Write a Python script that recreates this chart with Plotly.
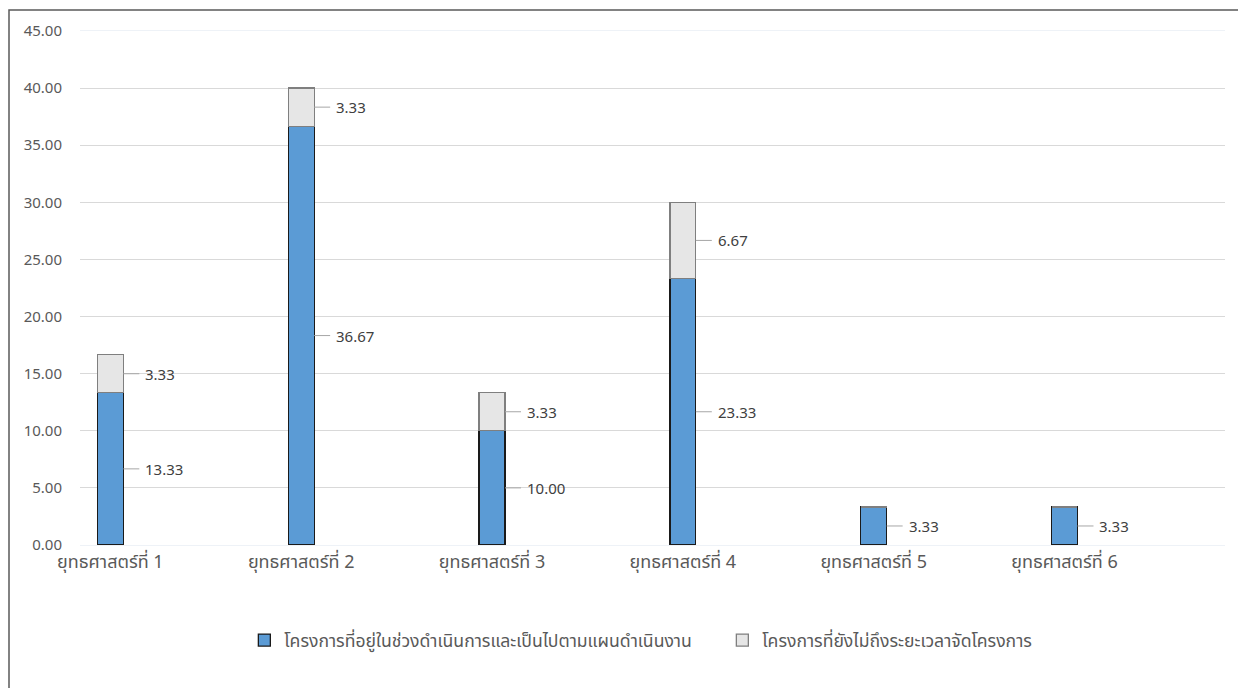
import plotly.graph_objects as go

categories = ["ยุทธศาสตร์ที่ 1", "ยุทธศาสตร์ที่ 2", "ยุทธศาสตร์ที่ 3",
              "ยุทธศาสตร์ที่ 4", "ยุทธศาสตร์ที่ 5", "ยุทธศาสตร์ที่ 6"]
in_progress = [13.33, 36.67, 10.00, 23.33, 3.33, 3.33]
not_yet = [3.33, 3.33, 3.33, 6.67, 0, 0]
series_names = ["โครงการที่อยู่ในช่วงดำเนินการและเป็นไปตามแผนดำเนินงาน",
                "โครงการที่ยังไม่ถึงระยะเวลาจัดโครงการ"]
y_ticks = [0, 5, 10, 15, 20, 25, 30, 35, 40, 45]

# page has an 8px body margin, so the figure is drawn from (8, 8)
W, H = 1238, 680
ML, MT = 72, 23
PW, PH = 1145, 514
MR = W - ML - PW
MB = H - MT - PH

x = list(range(len(categories)))
bw = 0.136
FONT = "Noto Sans, Noto Sans Thai, Leelawadee UI, Tahoma, sans-serif"

fig = go.Figure()
fig.add_trace(go.Bar(x=x, y=in_progress, width=bw, name=series_names[0],
                     marker=dict(color="#5B9BD5", line=dict(color="#1A1A1A", width=1.3)),
                     hoverinfo="skip"))
fig.add_trace(go.Bar(x=x, y=not_yet, width=bw, name=series_names[1],
                     marker=dict(color="#E6E6E6", line=dict(color="#7F7F7F", width=1.3)),
                     hoverinfo="skip"))

# leader lines and data labels
unit_px = PW / 6.0
lead = 16 / unit_px
lx, ly = [], []
for i in x:
    segs = [(in_progress[i] / 2, in_progress[i])]
    if not_yet[i] > 0:
        segs.append((in_progress[i] + not_yet[i] / 2, not_yet[i]))
    for ymid, val in segs:
        x0 = i + bw / 2
        lx += [x0, x0 + lead, None]
        ly += [ymid, ymid, None]
        fig.add_annotation(x=x0 + lead, y=ymid, xref="x", yref="y", text=f"{val:.2f}",
                           showarrow=False, xanchor="left", yanchor="middle", xshift=4,
                           font=dict(family=FONT, size=15, color="#404040"))
fig.add_trace(go.Scatter(x=lx, y=ly, mode="lines", line=dict(color="#A6A6A6", width=1),
                         showlegend=False, hoverinfo="skip"))

# outer chart frame (only top and left edges visible)
fig.add_shape(type="rect", xref="paper", yref="paper",
              x0=(1 - ML) / PW, x1=(W + 20 - ML) / PW,
              y0=-(H + 20 - MT - PH) / PH, y1=1 + (MT - 2) / PH,
              line=dict(color="#5A5A5A", width=1.5), fillcolor="rgba(0,0,0,0)", layer="below")

fig.update_layout(
    width=W, height=H,
    margin=dict(l=ML, r=MR, t=MT, b=MB),
    paper_bgcolor="white", plot_bgcolor="white",
    barmode="stack",
    showlegend=True,
    legend=dict(orientation="h", x=0.561, xanchor="center", y=-0.185, yanchor="middle",
                font=dict(family=FONT, size=17.6, color="#595959"), itemwidth=30,
                entrywidth=433, entrywidthmode="pixels",
                traceorder="normal"),
    xaxis=dict(range=[-0.159, 5.841], tickmode="array", tickvals=x, ticktext=categories,
               showgrid=False, zeroline=False, showline=True, linecolor="#EEF2F7", mirror=True,
               ticks="", tickfont=dict(family=FONT, size=18, color="#595959")),
    yaxis=dict(range=[0, 45], tickmode="array", tickvals=y_ticks,
               ticktext=[f"{v:.2f}" for v in y_ticks],
               showgrid=True, gridcolor="#D9D9D9", gridwidth=1, zeroline=True,
               zerolinecolor="#D9D9D9", zerolinewidth=1, showline=False, ticks="",
               ticklabelstandoff=17,
               tickfont=dict(family=FONT, size=15, color="#595959")),
)

fig.write_html("out.html")
